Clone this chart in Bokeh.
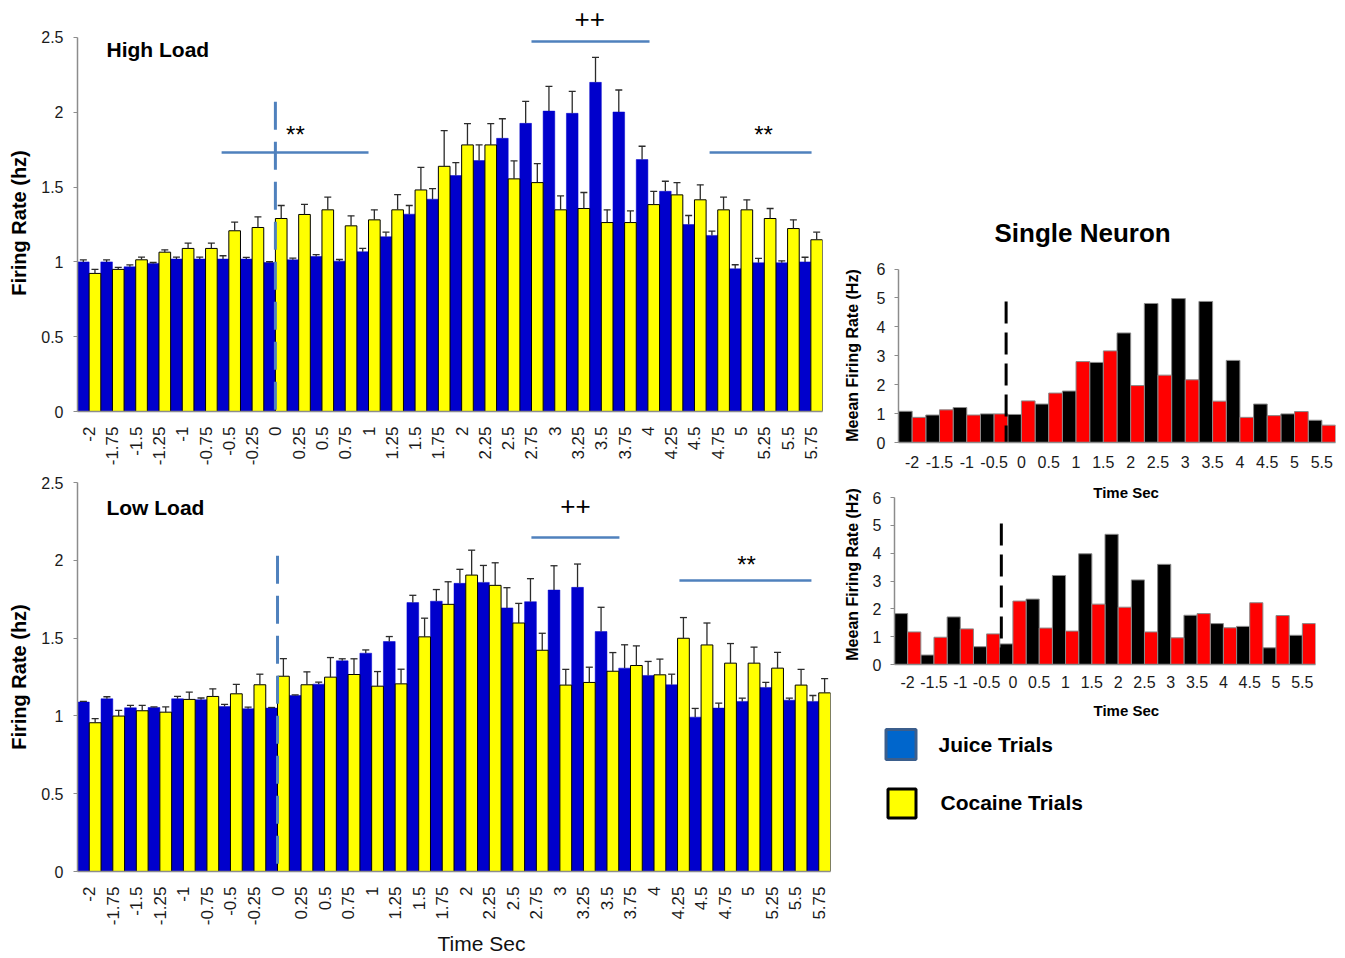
import math
from bokeh.plotting import figure
from bokeh.models import ColumnDataSource, Range1d, FixedTicker, Label
from bokeh.layouts import row, column
from bokeh.embed import file_html
from bokeh.resources import INLINE
from bokeh.core.properties import value

# ---------------- data ----------------
time_labels = ["-2", "-1.75", "-1.5", "-1.25", "-1", "-0.75", "-0.5", "-0.25", "0",
               "0.25", "0.5", "0.75", "1", "1.25", "1.5", "1.75", "2", "2.25", "2.5",
               "2.75", "3", "3.25", "3.5", "3.75", "4", "4.25", "4.5", "4.75", "5",
               "5.25", "5.5", "5.75"]

high_juice = [1.00, 1.00, 0.967, 0.99, 1.019, 1.019, 1.019, 1.019, 0.996, 1.014, 1.036,
              1.005, 1.068, 1.168, 1.319, 1.419, 1.577, 1.677, 1.826, 1.926, 2.008, 1.993,
              2.20, 2.002, 1.684, 1.472, 1.25, 1.177, 0.954, 0.994, 0.994, 1.00]
high_juice_sem = [0.013, 0.013, 0.013, 0.006, 0.013, 0.013, 0.022, 0.011, 0.005, 0.011,
                  0.013, 0.011, 0.022, 0.031, 0.058, 0.071, 0.087, 0.105, 0.131, 0.147,
                  0.165, 0.147, 0.167, 0.147, 0.089, 0.067, 0.06, 0.029, 0.027, 0.029,
                  0.013, 0.031]
high_cocaine = [0.923, 0.95, 1.014, 1.065, 1.09, 1.09, 1.208, 1.23, 1.29, 1.317, 1.348,
                1.241, 1.281, 1.348, 1.481, 1.639, 1.782, 1.782, 1.555, 1.53, 1.348, 1.357,
                1.263, 1.263, 1.383, 1.448, 1.415, 1.348, 1.348, 1.29, 1.223, 1.148]
high_cocaine_sem = [0.027, 0.013, 0.018, 0.016, 0.036, 0.036, 0.058, 0.071, 0.087, 0.067,
                    0.085, 0.067, 0.067, 0.102, 0.151, 0.238, 0.142, 0.142, 0.12, 0.127,
                    0.093, 0.107, 0.085, 0.078, 0.089, 0.082, 0.1, 0.085, 0.067, 0.067,
                    0.058, 0.051]

low_juice = [1.089, 1.11, 1.052, 1.054, 1.11, 1.104, 1.061, 1.046, 1.05, 1.131, 1.204,
             1.354, 1.403, 1.478, 1.728, 1.737, 1.852, 1.858, 1.694, 1.734, 1.809, 1.826,
             1.542, 1.307, 1.26, 1.2, 0.992, 1.05, 1.093, 1.183, 1.101, 1.093]
low_juice_sem = [0.004, 0.013, 0.015, 0.004, 0.015, 0.011, 0.013, 0.011, 0.004, 0.004,
                 0.013, 0.013, 0.021, 0.032, 0.047, 0.075, 0.09, 0.109, 0.13, 0.148, 0.156,
                 0.15, 0.156, 0.15, 0.09, 0.068, 0.056, 0.032, 0.021, 0.032, 0.013, 0.038]
low_cocaine = [0.956, 0.999, 1.033, 1.024, 1.106, 1.125, 1.142, 1.2, 1.255, 1.2, 1.249,
               1.266, 1.191, 1.206, 1.508, 1.717, 1.905, 1.839, 1.597, 1.422, 1.198, 1.215,
               1.287, 1.324, 1.264, 1.499, 1.456, 1.339, 1.339, 1.307, 1.198, 1.148]
low_cocaine_sem = [0.026, 0.036, 0.034, 0.034, 0.047, 0.049, 0.06, 0.068, 0.113, 0.083,
                   0.126, 0.101, 0.094, 0.094, 0.12, 0.145, 0.16, 0.145, 0.126, 0.109,
                   0.101, 0.098, 0.12, 0.126, 0.101, 0.133, 0.141, 0.126, 0.103, 0.101,
                   0.101, 0.092]

# significance bars / markers (x in bin index units)
high_sig_x0 = [5.69, 19.0, 26.65]
high_sig_x1 = [12.0, 24.07, 31.03]
high_sig_y = [1.731, 2.473, 1.731]
high_sig_text = ["**", "**"]
high_sig_tx = [8.86, 28.97]
high_sig_ty = [1.849, 1.849]
high_dash = (8, 2.07)

low_sig_x0 = [18.79, 25.08]
low_sig_x1 = [22.53, 30.69]
low_sig_y = [2.147, 1.870]
low_sig_text = ["++", "**"]
low_sig_tx = [20.66, 27.93]
low_sig_ty = [2.352, 1.976]
low_dash = (8, 2.03)

neuron_labels = ["-2", "-1.5", "-1", "-0.5", "0", "0.5", "1", "1.5", "2", "2.5", "3",
                 "3.5", "4", "4.5", "5", "5.5"]
neuron_a_juice = [1.08, 0.95, 1.21, 0.99, 0.97, 1.33, 1.78, 2.77, 3.79, 4.81, 4.98, 4.88,
                  2.84, 1.33, 0.99, 0.77]
neuron_a_cocaine = [0.87, 1.13, 0.95, 0.99, 1.44, 1.71, 2.80, 3.17, 1.97, 2.33, 2.17, 1.43,
                    0.87, 0.93, 1.07, 0.60]
neuron_b_juice = [1.83, 0.34, 1.71, 0.64, 0.74, 2.35, 3.20, 3.98, 4.68, 3.04, 3.60, 1.77,
                  1.47, 1.37, 0.60, 1.05]
neuron_b_cocaine = [1.17, 0.98, 1.28, 1.10, 2.28, 1.31, 1.20, 2.17, 2.06, 1.17, 0.96, 1.83,
                    1.32, 2.22, 1.76, 1.47]

legend_labels = ["Juice Trials", "Cocaine Trials"]

# ---------------- styles ----------------
FONT = "Liberation Sans"
BLUE = "#0000CC"
YELLOW = "#FFFF00"
SIG = "#4F81BD"
ERR = "#2b2b2b"
AXIS = "#8c8c8c"
TICKTXT = "#1a1a1a"


def clean(p):
    p.xgrid.visible = False
    p.ygrid.visible = False
    p.outline_line_color = None
    p.background_fill_color = "white"
    p.border_fill_color = "white"


def set_title(p, text, size, style, offset, standoff, color="black", valign="bottom"):
    p.title.text = text
    p.title.align = "left"
    p.title.vertical_align = valign
    p.title.offset = offset
    p.title.standoff = standoff
    p.title.text_font = FONT
    p.title.text_font_size = size
    p.title.text_font_style = style
    p.title.text_color = color


def load_panel(juice, jsem, coc, csem, width, height, borders, y_end, title,
               title_xy, sx0, sx1, sy, stext, stx, sty, dash, title_location):
    n = len(juice)
    left, right, top, bottom = borders
    p = figure(width=width, height=height, x_range=Range1d(-0.5, n - 0.5),
               y_range=Range1d(0, y_end), output_backend="svg", toolbar_location=None,
               min_border_left=left, min_border_right=right, min_border_top=top,
               min_border_bottom=bottom, title_location=title_location)
    p.frame_align = False
    clean(p)
    idx = list(range(n))
    src = ColumnDataSource(dict(
        xj=[i - 0.25 for i in idx], xc=[i + 0.25 for i in idx],
        j=juice, c=coc,
        jt=[a + b for a, b in zip(juice, jsem)], ct=[a + b for a, b in zip(coc, csem)],
        jl=[i - 0.4 for i in idx], jr=[i - 0.1 for i in idx],
        cl=[i + 0.1 for i in idx], cr=[i + 0.4 for i in idx],
    ))
    p.vbar(x="xj", top="j", width=0.5, fill_color=BLUE, line_color=BLUE, line_width=0.5,
           source=src)
    p.vbar(x="xc", top="c", width=0.5, fill_color=YELLOW, line_color="black",
           line_width=1, source=src)
    for xk, lo, hi, l, r in (("xj", "j", "jt", "jl", "jr"), ("xc", "c", "ct", "cl", "cr")):
        p.segment(x0=xk, y0=lo, x1=xk, y1=hi, line_color=ERR, line_width=1.3, source=src)
        p.segment(x0=l, y0=hi, x1=r, y1=hi, line_color=ERR, line_width=1.3, source=src)
    # dashed event line
    p.segment(x0=[dash[0]], y0=[dash[1]], x1=[dash[0]], y1=[0], line_color=SIG,
              line_width=3, line_dash="28 12")
    # significance bars
    p.segment(x0=sx0, y0=sy, x1=sx1, y1=sy, line_color=SIG, line_width=2.5)
    sizes = ["26px" if t == "++" else "24px" for t in stext]
    tsrc = ColumnDataSource(dict(x=stx, y=sty, t=stext, s=sizes))
    p.text(x="x", y="y", text="t", text_font_size="s", text_font=value(FONT),
           text_align="center", text_baseline="alphabetic", text_color="black",
           source=tsrc)
    p.text(x=[title_xy[0]], y=[title_xy[1]], text=[title], text_font=value(FONT),
           text_font_style="bold", text_font_size="21px", text_align="left",
           text_baseline="alphabetic", text_color="black")

    xa = p.xaxis[0]
    xa.ticker = FixedTicker(ticks=idx)
    xa.major_label_overrides = {i: lab for i, lab in enumerate(time_labels)}
    xa.major_label_orientation = math.pi / 2
    xa.major_label_text_font = FONT
    xa.major_label_text_font_size = "17px"
    xa.major_label_text_color = TICKTXT
    xa.major_label_standoff = 9
    xa.major_tick_line_color = None
    xa.minor_tick_line_color = None
    xa.axis_line_color = AXIS
    xa.axis_line_width = 1.5

    ya = p.yaxis[0]
    ya.ticker = FixedTicker(ticks=[0, 0.5, 1, 1.5, 2, 2.5])
    ya.major_label_overrides = {0: "0", 0.5: "0.5", 1: "1", 1.5: "1.5", 2: "2", 2.5: "2.5"}
    ya.bounds = (0, 2.5)
    ya.major_label_text_font = FONT
    ya.major_label_text_font_size = "16px"
    ya.major_label_text_color = TICKTXT
    ya.major_label_standoff = 10
    ya.major_tick_out = 4
    ya.major_tick_in = 0
    ya.major_tick_line_color = AXIS
    ya.minor_tick_line_color = None
    ya.axis_line_color = AXIS
    ya.axis_line_width = 1.5
    ya.axis_label = "Firing Rate (hz)"
    ya.axis_label_text_font = FONT
    ya.axis_label_text_font_style = "bold"
    ya.axis_label_text_font_size = "20px"
    ya.axis_label_text_color = "black"
    ya.axis_label_standoff = 8
    return p


def neuron_panel(juice, coc, width, height, borders, y_end, dash, label_standoff,
                 tick_standoff, title_location):
    n = len(juice)
    left, right, top, bottom = borders
    p = figure(width=width, height=height, x_range=Range1d(-0.5, n - 0.5),
               y_range=Range1d(0, y_end), output_backend="svg", toolbar_location=None,
               min_border_left=left, min_border_right=right, min_border_top=top,
               min_border_bottom=bottom, title_location=title_location)
    p.frame_align = False
    clean(p)
    idx = list(range(n))
    src = ColumnDataSource(dict(xj=[i - 0.25 for i in idx], xc=[i + 0.25 for i in idx],
                                j=juice, c=coc))
    p.vbar(x="xj", top="j", width=0.5, fill_color="black", line_color="#8a8a8a",
           line_width=1, source=src)
    p.vbar(x="xc", top="c", width=0.5, fill_color="#FF0000", line_color="#8a8a8a",
           line_width=1, source=src)
    p.segment(x0=[dash[0]], y0=[dash[1]], x1=[dash[0]], y1=[0], line_color="black",
              line_width=3, line_dash="22 9")

    xa = p.xaxis[0]
    xa.ticker = FixedTicker(ticks=idx)
    xa.major_label_overrides = {i: lab for i, lab in enumerate(neuron_labels)}
    xa.major_label_text_font = FONT
    xa.major_label_text_font_size = "16px"
    xa.major_label_text_color = TICKTXT
    xa.major_label_standoff = tick_standoff
    xa.major_tick_line_color = None
    xa.minor_tick_line_color = None
    xa.axis_line_color = AXIS
    xa.axis_line_width = 1.5

    ya = p.yaxis[0]
    ya.ticker = FixedTicker(ticks=[0, 1, 2, 3, 4, 5, 6])
    ya.bounds = (0, 6)
    ya.major_label_text_font = FONT
    ya.major_label_text_font_size = "16px"
    ya.major_label_text_color = TICKTXT
    ya.major_label_standoff = 9
    ya.major_tick_out = 4
    ya.major_tick_in = 0
    ya.major_tick_line_color = AXIS
    ya.minor_tick_line_color = None
    ya.axis_line_color = AXIS
    ya.axis_line_width = 1.5
    ya.axis_label = "Meean Firing Rate (Hz)"
    ya.axis_label_text_font = FONT
    ya.axis_label_text_font_style = "bold"
    ya.axis_label_text_font_size = "16px"
    ya.axis_label_text_color = "black"
    ya.axis_label_standoff = label_standoff
    return p


# ---------------- left panels (frames 77..822 / 77..830) ----------------
p_high = load_panel(high_juice, high_juice_sem, high_cocaine, high_cocaine_sem,
                    840, 470, (77, 18, 34, 59), 2.52, "High Load", (0.746, 2.423),
                    high_sig_x0, high_sig_x1, high_sig_y, high_sig_text, high_sig_tx,
                    high_sig_ty, high_dash, "above")
set_title(p_high, "++", "26px", "normal", 497, 10, valign="top")

p_low = load_panel(low_juice, low_juice_sem, low_cocaine, low_cocaine_sem,
                   840, 488, (77, 10, 12, 87), 2.5, "Low Load", (0.73, 2.339),
                   low_sig_x0, low_sig_x1, low_sig_y, low_sig_text, low_sig_tx,
                   low_sig_ty, low_dash, "below")
set_title(p_low, "Time Sec", "21px", "normal", 360, 2, "#111111")

# ---------------- right panels ----------------
p_na = neuron_panel(neuron_a_juice, neuron_a_cocaine, 505, 484, (57, 10, 268, 42),
                    6.02, (3.44, 4.88), 13, 7, "above")
set_title(p_na, "Single Neuron", "26px", "bold", 96, 42)

p_nb = neuron_panel(neuron_b_juice, neuron_b_cocaine, 505, 243, (53, 30, 0, 63),
                    6.47, (3.56, 5.07), 9, 5, "below")
set_title(p_nb, "Time Sec", "15px", "bold", 199, 18)
# x-axis caption of the upper single-neuron panel (sits in the gap above this panel)
p_nb.add_layout(Label(x=8.3, y=6.20, text="Time Sec", text_font=FONT,
                      text_font_style="bold", text_font_size="15px",
                      text_align="center", text_baseline="alphabetic",
                      text_color="black"))

# ---------------- legend ----------------
p_leg = figure(width=505, height=231, x_range=Range1d(840, 1345), y_range=Range1d(958, 727),
               output_backend="svg", toolbar_location=None, min_border=0,
               x_axis_location=None, y_axis_location=None)
p_leg.frame_align = False
clean(p_leg)
p_leg.rect(x=[900.5, 901.5], y=[744, 803], width=[30, 28], height=[30, 29],
           fill_color=["#0066CC", YELLOW], line_color=["#3B5E8C", "#000000"], line_width=3)
p_leg.text(x=[938, 940], y=[744, 802], text=legend_labels, text_font=value(FONT),
           text_font_style="bold", text_font_size="21px", text_align="left",
           text_baseline="alphabetic", text_color="black")

layout = row(column(p_high, p_low), column(p_na, p_nb, p_leg))
open("out.html", "w").write(file_html(layout, INLINE))
